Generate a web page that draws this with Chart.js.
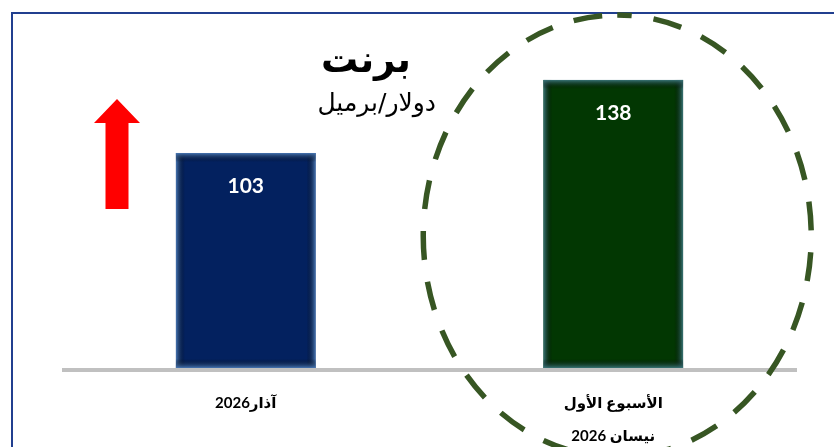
<!DOCTYPE html>
<html>
<head>
<meta charset="utf-8">
<script src="https://cdn.jsdelivr.net/npm/chart.js@4.4.1/dist/chart.umd.min.js"></script>
<style>
  html, body { margin: 0; padding: 0; background: #ffffff; }
  canvas { display: block; }
</style>
</head>
<body>
<canvas id="c" width="834" height="447"></canvas>
<script>
// ---- data ----
const categories = ['آذار2026', ['الأسبوع الأول', 'نيسان 2026']];
const values = [103, 138];
const titleText = 'برنت';
const subtitleText = 'دولار/برميل';

// ---- styles ----
const barColors = ['#03215f', '#023702'];
const barEdgeColors = ['rgba(74,122,184,0.95)', 'rgba(60,120,125,0.95)'];

const glowPlugin = {
  id: 'glow',
  afterDatasetsDraw(chart) {
    const ctx = chart.ctx;
    const meta = chart.getDatasetMeta(0);
    const g = 9;
    meta.data.forEach((bar, i) => {
      const p = bar.getProps(['x', 'y', 'base', 'width'], true);
      const l = p.x - p.width / 2, r = p.x + p.width / 2, t = p.y, b = p.base;
      const c = barEdgeColors[i];
      ctx.save();
      let gr;
      gr = ctx.createLinearGradient(l, 0, l + g, 0);
      gr.addColorStop(0, c); gr.addColorStop(1, 'rgba(0,0,0,0)');
      ctx.fillStyle = gr; ctx.fillRect(l, t, g, b - t);
      gr = ctx.createLinearGradient(r, 0, r - g, 0);
      gr.addColorStop(0, c); gr.addColorStop(1, 'rgba(0,0,0,0)');
      ctx.fillStyle = gr; ctx.fillRect(r - g, t, g, b - t);
      gr = ctx.createLinearGradient(0, t, 0, t + g);
      gr.addColorStop(0, c); gr.addColorStop(1, 'rgba(0,0,0,0)');
      ctx.fillStyle = gr; ctx.fillRect(l, t, r - l, g);
      gr = ctx.createLinearGradient(0, b, 0, b - g);
      gr.addColorStop(0, c); gr.addColorStop(1, 'rgba(0,0,0,0)');
      ctx.fillStyle = gr; ctx.fillRect(l, b - g, r - l, g);
      // value label
      ctx.fillStyle = '#ffffff';
      ctx.font = 'bold 21px Lato, "Open Sans", sans-serif';
      ctx.textAlign = 'center';
      ctx.textBaseline = 'middle';
      ctx.fillText(String(values[i]), p.x, t + 33);
      ctx.restore();
    });
  }
};

const decorPlugin = {
  id: 'decor',
  afterDraw(chart) {
    const ctx = chart.ctx;
    const ca = chart.chartArea;
    const xs = chart.scales.x;
    ctx.save();
    // frame
    ctx.strokeStyle = '#213f8f';
    ctx.lineWidth = 2;
    ctx.beginPath();
    ctx.moveTo(12, 447);
    ctx.lineTo(12, 13);
    ctx.lineTo(834, 13);
    ctx.stroke();

    // baseline
    ctx.fillStyle = '#c0c0c0';
    ctx.fillRect(ca.left, ca.bottom, ca.right - ca.left, 4);

    // title & subtitle
    ctx.fillStyle = '#000000';
    ctx.direction = 'rtl';
    ctx.textAlign = 'right';
    ctx.textBaseline = 'middle';
    ctx.font = 'bold 37px "DejaVu Sans", sans-serif';
    ctx.fillText(titleText, ca.left + 349, 62);
    ctx.font = '25px "DejaVu Sans", sans-serif';
    ctx.fillText(subtitleText, ca.left + 374, 104);
    ctx.direction = 'ltr';

    // red arrow
    const ax = ca.left + 55;
    ctx.fillStyle = '#ff0000';
    ctx.beginPath();
    ctx.moveTo(ax, 99);
    ctx.lineTo(ax + 23, 123);
    ctx.lineTo(ax + 11.5, 123);
    ctx.lineTo(ax + 11.5, 209);
    ctx.lineTo(ax - 11.5, 209);
    ctx.lineTo(ax - 11.5, 123);
    ctx.lineTo(ax - 23, 123);
    ctx.closePath();
    ctx.fill();

    // dashed ellipse around second bar
    const cx = xs.getPixelForValue(1) + 4;
    ctx.strokeStyle = '#375623';
    ctx.lineWidth = 5.5;
    ctx.setLineDash([29, 22]);
    ctx.lineDashOffset = 14.5;
    ctx.beginPath();
    ctx.ellipse(cx, 236, 194, 221, 0, -Math.PI / 2, 1.5 * Math.PI);
    ctx.stroke();
    ctx.restore();
  }
};

new Chart(document.getElementById('c'), {
  type: 'bar',
  data: {
    labels: categories,
    datasets: [{
      data: values,
      backgroundColor: barColors,
      borderWidth: 0,
      barPercentage: 0.76,
      categoryPercentage: 0.5
    }]
  },
  options: {
    responsive: false,
    devicePixelRatio: 1,
    animation: false,
    layout: { padding: { left: 62, right: 37, top: 34, bottom: 0 } },
    plugins: { legend: { display: false }, tooltip: { enabled: false }, title: { display: false } },
    scales: {
      x: {
        grid: { display: false, drawTicks: false },
        border: { display: false },
        ticks: {
          color: '#000000',
          font: { family: 'Lato, "DejaVu Sans", sans-serif', weight: 'bold', size: 15, lineHeight: 2.2 },
          padding: 19,
          maxRotation: 0
        },
        afterFit(scale) { scale.height = 79; }
      },
      y: {
        display: false,
        min: 0,
        max: 160
      }
    }
  },
  plugins: [glowPlugin, decorPlugin]
});
</script>
</body>
</html>
